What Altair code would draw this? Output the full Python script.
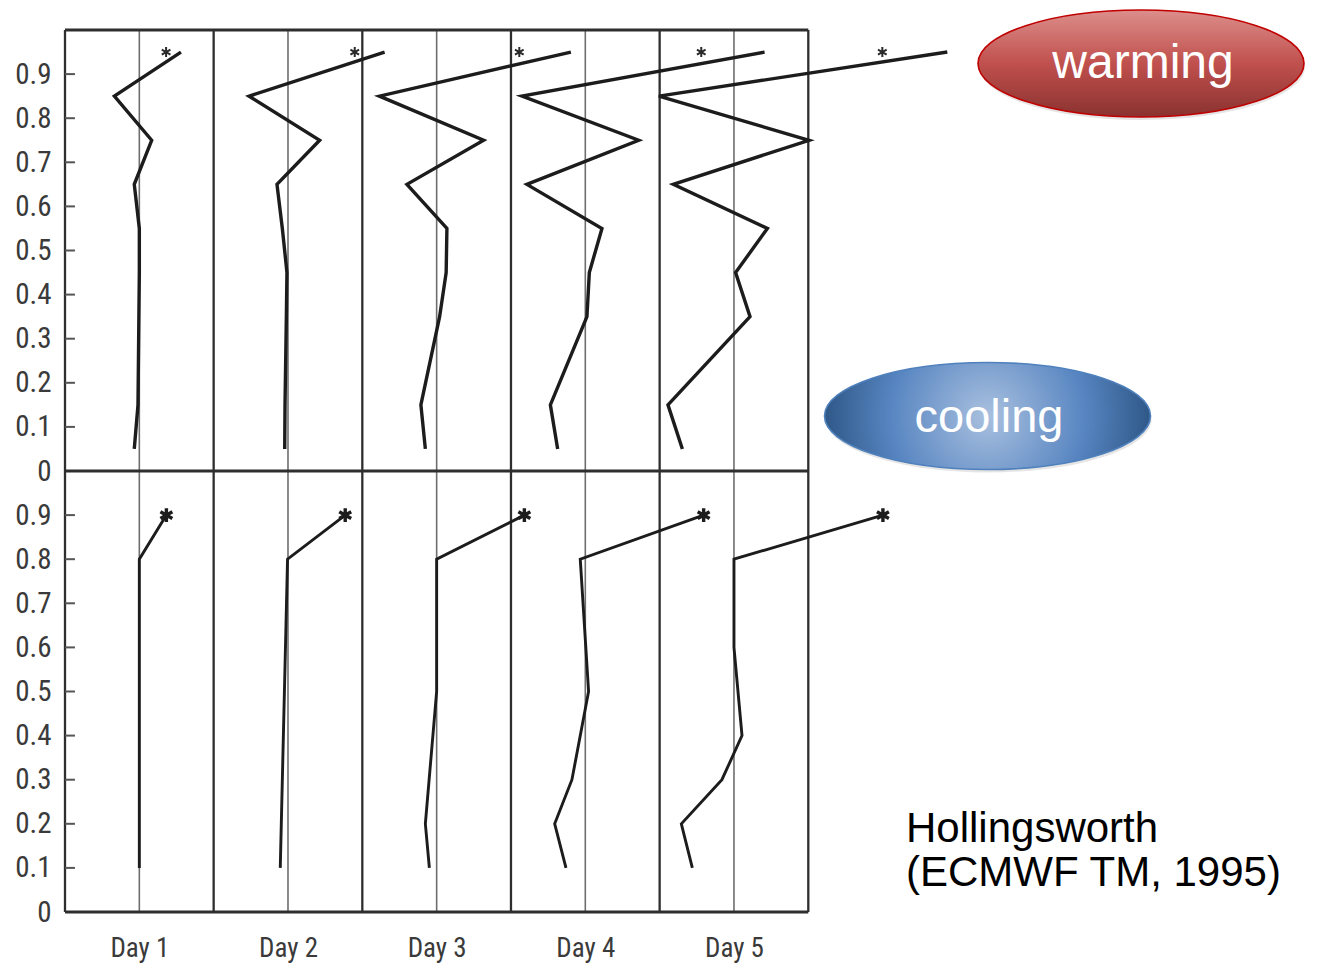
import altair as alt
import pandas as pd

# ---------------- data ----------------
DAYS = [1, 2, 3, 4, 5]

# upper panel ("warming"): sigma level and offset from each day's zero line (in column widths)
WARM_LEVELS = [0.05, 0.15, 0.35, 0.45, 0.55, 0.65, 0.75, 0.85, 0.95]
WARM_DAY1 = [-0.034, -0.009, -0.003, 0.000, 0.000, -0.034, 0.083, -0.168, 0.280]
WARM_DAY2 = [-0.022, -0.020, -0.011, -0.007, -0.038, -0.074, 0.213, -0.262, 0.650]
WARM_DAY3 = [-0.076, -0.106, 0.020, 0.064, 0.069, -0.200, 0.316, -0.385, 0.903]
WARM_DAY4 = [-0.186, -0.235, 0.011, 0.027, 0.112, -0.393, 0.359, -0.426, 1.206]
WARM_DAY5 = [-0.347, -0.444, 0.108, 0.011, 0.225, -0.408, 0.505, -0.505, 1.435]
WARM_STAR = [0.180, 0.449, 0.556, 0.780, 0.998]
WARM_STAR_LEVEL = 0.95

# lower panel ("cooling")
COOL_LEVELS_DAY1 = [0.1, 0.8, 0.9]
COOL_DAY1 = [0.000, 0.000, 0.182]
COOL_LEVELS_DAY2 = [0.1, 0.8, 0.9]
COOL_DAY2 = [-0.052, -0.003, 0.385]
COOL_LEVELS_DAY3 = [0.1, 0.2, 0.5, 0.8, 0.9]
COOL_DAY3 = [-0.049, -0.076, 0.000, 0.000, 0.590]
COOL_LEVELS_DAY4 = [0.1, 0.2, 0.3, 0.5, 0.8, 0.9]
COOL_DAY4 = [-0.130, -0.206, -0.090, 0.022, -0.034, 0.796]
COOL_LEVELS_DAY5 = [0.1, 0.2, 0.3, 0.4, 0.6, 0.8, 0.9]
COOL_DAY5 = [-0.280, -0.354, -0.081, 0.054, 0.000, 0.000, 1.002]

TICK_LEVELS = [0.1, 0.2, 0.3, 0.4, 0.5, 0.6, 0.7, 0.8, 0.9]
LABEL_LEVELS = [0.0] + TICK_LEVELS

CITE_LINES = ["Hollingsworth", "(ECMWF TM, 1995)"]

# ---------------- tables built from the arrays ----------------
warm = [WARM_DAY1, WARM_DAY2, WARM_DAY3, WARM_DAY4, WARM_DAY5]
cool = [COOL_DAY1, COOL_DAY2, COOL_DAY3, COOL_DAY4, COOL_DAY5]
cool_lv = [COOL_LEVELS_DAY1, COOL_LEVELS_DAY2, COOL_LEVELS_DAY3, COOL_LEVELS_DAY4, COOL_LEVELS_DAY5]

warm_rows, cool_rows = [], []
for d, vals in zip(DAYS, warm):
    for lv, v in zip(WARM_LEVELS, vals):
        warm_rows.append({"s": f"w{d}", "x": d + v, "y": 1 + lv, "o": lv})
for d, lvs, vals in zip(DAYS, cool_lv, cool):
    for lv, v in zip(lvs, vals):
        cool_rows.append({"s": f"c{d}", "x": d + v, "y": lv, "o": lv})
warm_df = pd.DataFrame(warm_rows)
cool_df = pd.DataFrame(cool_rows)

warm_star_df = pd.DataFrame({"x": [d + s for d, s in zip(DAYS, WARM_STAR)],
                             "y": [1 + WARM_STAR_LEVEL] * 5})
cool_star_df = pd.DataFrame({"x": [d + v[-1] for d, v in zip(DAYS, cool)],
                             "y": [lv[-1] for lv in cool_lv]})

dividers = pd.DataFrame({"x": [d - 0.5 for d in DAYS] + [DAYS[-1] + 0.5], "y": 0.0, "y2": 2.0})
hlines = pd.DataFrame({"y": [0.0, 1.0, 2.0], "x": DAYS[0] - 0.5, "x2": DAYS[-1] + 0.5})
centers = pd.DataFrame({"x": DAYS, "y": 0.0, "y2": 2.0})
ticks = pd.DataFrame({"y": TICK_LEVELS + [1 + t for t in TICK_LEVELS],
                      "x": DAYS[0] - 0.5, "x2": DAYS[0] - 0.5 + 0.067})

# ---------------- scales / axes ----------------
W, H = 1255, 882
PAD_L, PAD_T = 65, 30
COL = 148.66
XS = alt.Scale(domain=[0.5, 0.5 + W / COL], nice=False, zero=False)
YS = alt.Scale(domain=[0, 2], nice=False, zero=False)
NARROW = "Liberation Sans Narrow, Arial Narrow, Roboto Condensed, sans-serif"
XAX = alt.Axis(values=DAYS, labelExpr="'Day ' + datum.value", title=None, grid=False,
               domain=False, ticks=False, labelPadding=23, labelFont=NARROW,
               labelFontSize=27, labelColor="#3a3a3a")
YAX = alt.Axis(values=LABEL_LEVELS + [1 + v for v in LABEL_LEVELS],
               labelExpr="format(datum.value >= 0.999 ? datum.value - 1 : datum.value, '.1~f')",
               title=None, grid=False, domain=False, ticks=False, labelPadding=14,
               labelFont=NARROW, labelFontSize=29, labelColor="#3a3a3a")


def X(f="x"):
    return alt.X(f"{f}:Q", scale=XS, axis=XAX)


def Y(f="y"):
    return alt.Y(f"{f}:Q", scale=YS, axis=YAX)


FRAME = "#2e2e2e"
center_layer = alt.Chart(centers).mark_rule(color="#6e6e6e", strokeWidth=1.6).encode(
    x=X(), y=Y(), y2="y2:Q")
divider_layer = alt.Chart(dividers).mark_rule(color=FRAME, strokeWidth=2.3).encode(
    x=X(), y=Y(), y2="y2:Q")
hline_layer = alt.Chart(hlines).mark_rule(color=FRAME, strokeWidth=2.8).encode(
    x=X(), x2="x2:Q", y=Y())
tick_layer = alt.Chart(ticks).mark_rule(color="#555555", strokeWidth=2).encode(
    x=X(), x2="x2:Q", y=Y())

warm_line = alt.Chart(warm_df).mark_line(color="#1c1c1c", strokeWidth=3.4).encode(
    x=X(), y=Y(), detail="s:N", order="o:Q")
cool_line = alt.Chart(cool_df).mark_line(color="#1c1c1c", strokeWidth=2.9).encode(
    x=X(), y=Y(), detail="s:N", order="o:Q")

STAR = "M 0 -1 L 0 1 M -0.866 -0.5 L 0.866 0.5 M -0.866 0.5 L 0.866 -0.5"
warm_star = alt.Chart(warm_star_df).mark_point(
    shape=STAR, filled=False, stroke="#2a2a2a", strokeWidth=2, size=100, opacity=1).encode(
    x=X(), y=Y())
cool_star = alt.Chart(cool_star_df).mark_point(
    shape=STAR, filled=False, stroke="#1c1c1c", strokeWidth=3.4, size=190, opacity=1).encode(
    x=X(), y=Y())

# ---------------- annotations (pixel placement) ----------------
ELL = ("M -1 0 C -1 -0.1811 -0.5523 -0.328 0 -0.328 C 0.5523 -0.328 1 -0.1811 1 0 "
       "C 1 0.1811 0.5523 0.328 0 0.328 C -0.5523 0.328 -1 0.1811 -1 0 Z")
one = pd.DataFrame({"a": [0]})


def px(xp):
    return alt.value(xp - PAD_L)


def py(yp):
    return alt.value(yp - PAD_T)


WARM_C = (1141, 63.5)
COOL_C = (987.5, 416)
ELL_SIZE = 326 ** 2

warm_grad = alt.LinearGradient(gradient="linear", x1=0, y1=0, x2=0, y2=1, stops=[
    alt.GradientStop(color="#dc8e8b", offset=0),
    alt.GradientStop(color="#c0504d", offset=0.5),
    alt.GradientStop(color="#8a3230", offset=1)])
cool_grad = alt.RadialGradient(gradient="radial", x1=0.5, y1=0.5, r1=0, x2=0.5, y2=0.5, r2=0.5, stops=[
    alt.GradientStop(color="#a9c0df", offset=0),
    alt.GradientStop(color="#5785c1", offset=0.6),
    alt.GradientStop(color="#2f5888", offset=1)])

shadows = [
    alt.Chart(one).mark_point(shape=ELL, filled=True, fill="#000000", opacity=0.10,
                              size=ELL_SIZE, strokeWidth=0).encode(x=px(c[0] + 1), y=py(c[1] + 3))
    for c in (WARM_C, COOL_C)
]
warm_ell = alt.Chart(one).mark_point(shape=ELL, filled=True, fill=warm_grad, stroke="#c00000",
                                     strokeWidth=1.6, size=ELL_SIZE, opacity=1).encode(
    x=px(WARM_C[0]), y=py(WARM_C[1]))
cool_ell = alt.Chart(one).mark_point(shape=ELL, filled=True, fill=cool_grad, stroke="#4f81bd",
                                     strokeWidth=1.6, size=ELL_SIZE, opacity=1).encode(
    x=px(COOL_C[0]), y=py(COOL_C[1]))

SANS = "Liberation Sans, Arial, sans-serif"
warm_txt = alt.Chart(one).mark_text(text="warming", font=SANS, fontSize=48, color="white",
                                    align="center", baseline="alphabetic").encode(
    x=px(1143), y=py(78))
cool_txt = alt.Chart(one).mark_text(text="cooling", font=SANS, fontSize=47, color="white",
                                    align="center", baseline="alphabetic").encode(
    x=px(989), y=py(432))
cite_1 = alt.Chart(one).mark_text(text=CITE_LINES[0], font=SANS, fontSize=42, color="black",
                                  align="left", baseline="alphabetic").encode(
    x=px(906), y=py(842))
cite_2 = alt.Chart(one).mark_text(text=CITE_LINES[1], font=SANS, fontSize=42, color="black",
                                  align="left", baseline="alphabetic").encode(
    x=px(906), y=py(886))

chart = alt.layer(
    center_layer, divider_layer, hline_layer, tick_layer,
    warm_line, cool_line, warm_star, cool_star,
    *shadows, warm_ell, cool_ell, warm_txt, cool_txt, cite_1, cite_2,
).properties(
    width=W, height=H,
    padding={"left": PAD_L, "top": PAD_T, "right": 0, "bottom": 965 - PAD_T - H},
    autosize=alt.AutoSizeParams(type="none"),
    background="white",
).configure_view(stroke=None)

chart.save("out.html", embed_options={"renderer": "svg", "actions": False})
